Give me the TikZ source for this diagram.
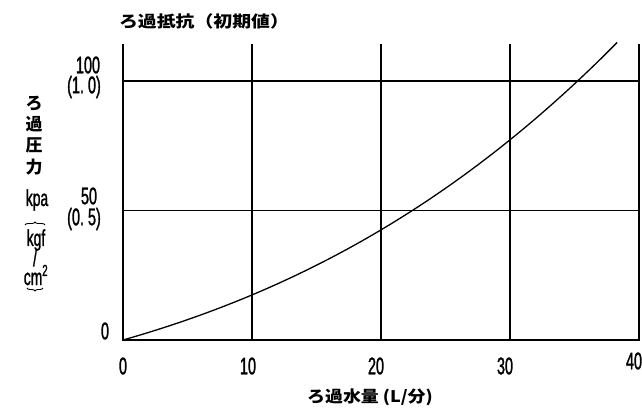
\documentclass[tikz,border=0pt]{standalone}
\usepackage{fontspec}
\setmainfont{Liberation Sans}
\newfontfamily\cjk{Noto Sans CJK JP}
\newfontfamily\numf[FakeStretch=0.6,FakeBold=1.2]{Liberation Sans}
\usetikzlibrary{decorations.pathreplacing}
\begin{document}
\begin{tikzpicture}[x=1pt,y=1pt,
  gridline/.style={line width=1.4pt},
  curveline/.style={line width=1.3pt},
  num/.style={font=\numf\fontsize{24}{24}\selectfont, inner sep=0pt},
  unit/.style={font=\numf\fontsize{23}{23}\selectfont, inner sep=0pt},
  jp/.style={font=\cjk\bfseries\fontsize{16}{16}\selectfont, inner sep=0pt},
  jpv/.style={font=\cjk\bfseries\fontsize{17}{17}\selectfont, inner sep=0pt},
  bracestyle/.style={line width=0.9pt, decorate, decoration={brace, amplitude=3pt}}]
\useasboundingbox (0,0) rectangle (642,408);
\begin{scope}[shift={(123pt,68pt)}, x=12.9pt, y=2.59pt]
  \draw[gridline] (0,114.3) -- (0,0) -- (40,0) -- (40,114.3);
  \foreach \i in {10,20,30} \draw[gridline] (\i,0) -- (\i,114.3);
  \draw[gridline] (0,50) -- (40,50);
  \draw[gridline] (0,100) -- (40,100);
  \draw[curveline] plot[domain=0:38.3, samples=80, smooth] (\x, {1.418*\x+0.029*\x*\x+0.000317*\x*\x*\x});
\end{scope}
% title
\node[jp] (title) at (204,387) {\scalebox{1.18}[1]{ろ過抵抗（初期値）}};
% y tick labels
\node[num] (y100) at (88,343) {100};
\node[num] (y10) at (84,321) {(1.\,0)};
\node[num] (y50) at (89,212) {50};
\node[num] (y05) at (84,189) {(0.\,5)};
\node[num] (y0) at (105,77) {0};
% x tick labels
\node[num] (x0) at (123,42) {0};
\node[num] (x10) at (248,42) {10};
\node[num] (x20) at (376,42) {20};
\node[num] (x30) at (505,42) {30};
\node[num] (x40) at (634,47) {40};
% x axis label
\node[jp] (xlabel) at (370,11) {\scalebox{1.12}[1]{ろ過水量 (L/分)}};
% y axis label
\node[jpv] (yl1) at (34,304) {ろ};
\node[jpv] (yl2) at (34,284) {過};
\node[jpv] (yl3) at (34,263) {圧};
\node[jpv] (yl4) at (34,241) {力};
\node[unit] (kpa) at (37,208) {kpa};
\node[unit] (kgf) at (36,168) {kgf};
\node[unit] (slash) at (35,150) {/};
\node[unit] (cm) at (36,133) {cm\textsuperscript{2}};
\draw[bracestyle] (25,183) -- (45,183);
\draw[bracestyle] (43,120) -- (27,120);
\end{tikzpicture}
\end{document}
